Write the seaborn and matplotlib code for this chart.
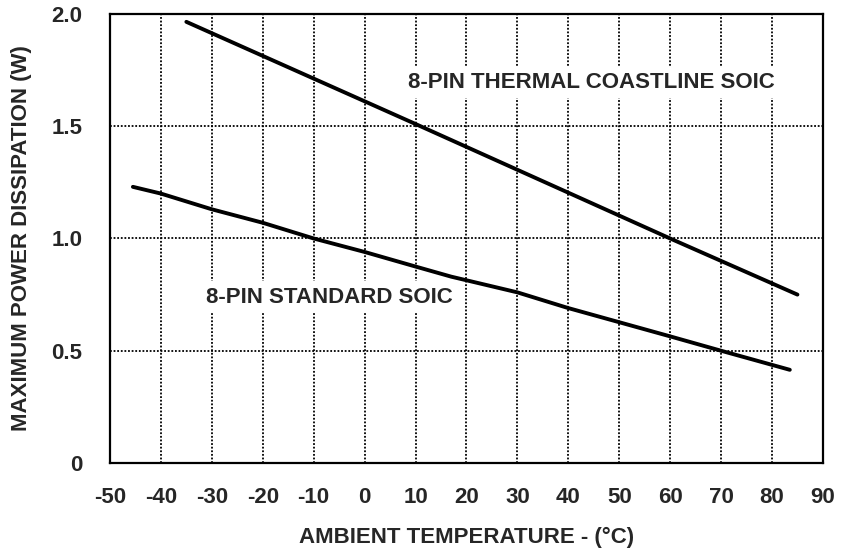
import pandas as pd
import matplotlib.pyplot as plt
import seaborn as sns

# curves
thermal_temp = [-35, 10, 60, 85]
thermal_power = [1.965, 1.51, 1.0, 0.75]

standard_temp = [-45.5, -40, -30, -20, -10, 0, 10, 17, 30, 40, 50, 60, 70, 83.5]
standard_power = [1.23, 1.20, 1.13, 1.07, 1.0, 0.94, 0.875, 0.83, 0.76, 0.69, 0.627, 0.564, 0.50, 0.415]

x_ticks = [-50, -40, -30, -20, -10, 0, 10, 20, 30, 40, 50, 60, 70, 80, 90]
y_ticks = [0, 0.5, 1.0, 1.5, 2.0]
y_tick_labels = ['0', '0.5', '1.0', '1.5', '2.0']

df = pd.concat([
    pd.DataFrame({'temp': thermal_temp, 'power': thermal_power, 'part': 'thermal'}),
    pd.DataFrame({'temp': standard_temp, 'power': standard_power, 'part': 'standard'}),
])

sns.set_style('white')
plt.rcParams['font.family'] = ['Liberation Sans', 'DejaVu Sans']
plt.rcParams['font.weight'] = 'bold'
fs = 16

fig = plt.figure(figsize=(8.44, 5.57), dpi=100)
ax = fig.add_axes([0.1303, 0.1688, 0.8447, 0.8061])

sns.lineplot(data=df, x='temp', y='power', units='part', estimator=None,
             color='black', linewidth=2.8, ax=ax, sort=False, zorder=3)

ax.set_xlim(-50, 90)
ax.set_ylim(0, 2.0)
ax.set_xticks(x_ticks)
ax.set_xticklabels([str(t) for t in x_ticks], fontsize=fs, fontweight='bold')
ax.set_yticks(y_ticks)
ax.set_yticklabels(y_tick_labels, fontsize=fs, fontweight='bold')
ax.tick_params(axis='both', length=0)
ax.tick_params(axis='x', pad=17)
ax.tick_params(axis='y', pad=20)

ax.grid(True, color='black', linestyle=(0, (1, 1)), linewidth=1.3)
for s in ax.spines.values():
    s.set_color('black')
    s.set_linewidth(1.6)

ax.set_xlabel('AMBIENT TEMPERATURE - (°C)', fontsize=fs, fontweight='bold', labelpad=14)
ax.set_ylabel('MAXIMUM POWER DISSIPATION (W)', fontsize=fs, fontweight='bold', labelpad=14)

box = dict(facecolor='white', edgecolor='none', pad=4)
ax.text(44.5, 1.697, '8-PIN THERMAL COASTLINE SOIC', ha='center', va='center',
        fontsize=fs, fontweight='bold', bbox=box, zorder=4)
ax.text(-6.9, 0.738, '8-PIN STANDARD SOIC', ha='center', va='center',
        fontsize=fs, fontweight='bold', bbox=box, zorder=4)

fig.savefig('out.png', dpi=100)
